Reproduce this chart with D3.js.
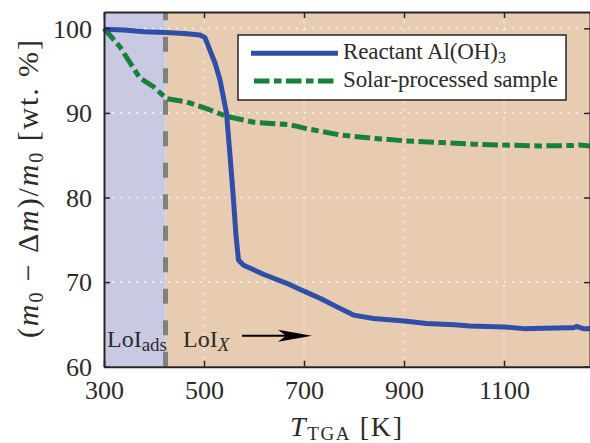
<!DOCTYPE html>
<html>
<head>
<meta charset="utf-8">
<script src="https://cdn.jsdelivr.net/npm/d3@7"></script>
<style>
  html, body { margin: 0; padding: 0; background: #fff; overflow: hidden; }
  svg { display: block; }
  svg text { font-family: "Liberation Serif", "DejaVu Serif", serif; fill: #2b2b2b; }
</style>
</head>
<body>
<svg id="chart" width="590" height="443"></svg>
<script>
// ---- data ----
const reactantT = [300, 340, 380, 423, 460, 492, 502, 512, 522, 532, 545, 552, 559, 564, 569, 579, 620, 672, 701, 732, 765, 799, 839, 901, 945, 1000, 1032, 1101, 1139, 1180, 1230, 1239, 1245, 1259, 1272];
const reactantW = [99.9, 99.8, 99.6, 99.5, 99.4, 99.2, 98.9, 97.4, 95.9, 93.9, 90.0, 85.0, 79.7, 75.5, 72.6, 72.0, 70.9, 69.7, 68.9, 68.1, 67.1, 66.1, 65.7, 65.4, 65.1, 64.95, 64.8, 64.7, 64.5, 64.55, 64.6, 64.6, 64.75, 64.5, 64.5];
const solarT = [300, 332, 372, 399, 425, 465, 505, 545, 600, 672, 701, 772, 839, 901, 972, 1039, 1101, 1172, 1239, 1250, 1272];
const solarW = [100, 97.8, 94.1, 93.1, 91.7, 91.3, 90.5, 89.6, 88.9, 88.6, 88.2, 87.4, 87.0, 86.7, 86.5, 86.3, 86.2, 86.1, 86.15, 86.2, 86.1];
const seriesNames = ["Reactant Al(OH)", "Solar-processed sample"];
const xTicks = [300, 500, 700, 900, 1100];
const yTicks = [60, 70, 80, 90, 100];
const lossBoundary = 423;

// ---- layout ----
const FONT = '"Liberation Serif", "DejaVu Serif", serif';
const svg = d3.select("#chart");
const L = 104, T = 12, R = 590, B = 366.7;
const x = d3.scaleLinear().domain([300, 1272]).range([L, R]);
const y = d3.scaleLinear().domain([60, 101.93]).range([B, T]);

const bgBlue = "#c9c9e4", bgTan = "#e8ccb1";
const blue = "#2f4fa7", green = "#19803b", axisCol = "#262626";

// background regions
svg.append("rect").attr("x", x(300)).attr("y", T).attr("width", x(lossBoundary) - x(300)).attr("height", B - T).attr("fill", bgBlue);
svg.append("rect").attr("x", x(lossBoundary)).attr("y", T).attr("width", R - x(lossBoundary)).attr("height", B - T).attr("fill", bgTan);

// grid
const grid = svg.append("g").attr("stroke", "#f4f4f4").attr("stroke-width", 1.6).attr("stroke-dasharray", "1.8,6.2").attr("opacity", 0.95);
xTicks.filter(d => d > 300).forEach(d => grid.append("line").attr("x1", x(d)).attr("x2", x(d)).attr("y1", B).attr("y2", T));
yTicks.filter(d => d > 60).forEach(d => grid.append("line").attr("x1", L).attr("x2", R).attr("y1", y(d)).attr("y2", y(d)));

// boundary dashed line
svg.append("line").attr("x1", x(lossBoundary)).attr("x2", x(lossBoundary)).attr("y1", B).attr("y2", T)
  .attr("stroke", "#808080").attr("stroke-width", 5).attr("stroke-dasharray", "15,16.5");

// lines
const line = d3.line().x(d => x(d[0])).y(d => y(d[1]));
svg.append("path").datum(solarT.map((t, i) => [t, solarW[i]])).attr("d", line)
  .attr("fill", "none").attr("stroke", green).attr("stroke-width", 5).attr("stroke-dasharray", "15.5,4.5,7.5,4.5");
svg.append("path").datum(reactantT.map((t, i) => [t, reactantW[i]])).attr("d", line)
  .attr("fill", "none").attr("stroke", blue).attr("stroke-width", 5).attr("stroke-linejoin", "round");

// axes
const fmt = d3.format("d");
const axB = svg.append("g").attr("transform", `translate(0,${B})`).call(d3.axisBottom(x).tickValues(xTicks).tickFormat(fmt).tickSizeInner(-6).tickSizeOuter(0).tickPadding(14));
const axT = svg.append("g").attr("transform", `translate(0,${T})`).call(d3.axisTop(x).tickValues(xTicks).tickSizeInner(-6).tickSizeOuter(0).tickFormat(""));
const axL = svg.append("g").attr("transform", `translate(${L},0)`).call(d3.axisLeft(y).tickValues(yTicks).tickFormat(fmt).tickSizeInner(-6).tickSizeOuter(0).tickPadding(12));
const axR = svg.append("g").attr("transform", `translate(${R},0)`).call(d3.axisRight(y).tickValues(yTicks).tickSizeInner(-6).tickSizeOuter(0).tickFormat(""));
[axB, axT, axL, axR].forEach(g => {
  g.attr("font-family", FONT);
  g.select(".domain").attr("stroke", axisCol).attr("stroke-width", 2);
  g.selectAll(".tick line").attr("stroke", axisCol).attr("stroke-width", 1.5);
  g.selectAll(".tick text").style("font-family", FONT).attr("font-size", 26);
});
axB.selectAll(".tick text").attr("dy", "0.71em");
axL.selectAll(".tick text").attr("dy", "0.34em");

// legend
const lg = svg.append("g");
lg.append("rect").attr("x", 238).attr("y", 35).attr("width", 328).attr("height", 65).attr("fill", "#fff").attr("stroke", axisCol).attr("stroke-width", 1.5);
lg.append("line").attr("x1", 251).attr("x2", 338).attr("y1", 53.3).attr("y2", 53.3).attr("stroke", blue).attr("stroke-width", 5);
lg.append("line").attr("x1", 254).attr("x2", 338).attr("y1", 81).attr("y2", 81).attr("stroke", green).attr("stroke-width", 5).attr("stroke-dasharray", "15.5,4.5,7.5,4.5");
const t1 = lg.append("text").attr("x", 343).attr("y", 58.5).attr("font-size", 23).style("font-family", FONT);
t1.append("tspan").attr("textLength", 155).attr("lengthAdjust", "spacing").text(seriesNames[0]);
t1.append("tspan").attr("font-size", 16).attr("dy", 4).text("3");
lg.append("text").attr("x", 343).attr("y", 86.5).attr("font-size", 23).attr("textLength", 215).attr("lengthAdjust", "spacing").style("font-family", FONT).text(seriesNames[1]);

// annotations
const a1 = svg.append("text").attr("x", 107).attr("y", 346.7).attr("font-size", 24).style("font-family", FONT);
a1.append("tspan").text("LoI");
a1.append("tspan").attr("font-size", 19).attr("dy", 4).text("ads");
const a2 = svg.append("text").attr("x", 183).attr("y", 346.7).attr("font-size", 24).style("font-family", FONT);
a2.append("tspan").text("LoI");
a2.append("tspan").attr("font-size", 19).attr("dy", 4).attr("font-style", "italic").text("X");

svg.append("line").attr("x1", 242).attr("x2", 290).attr("y1", 335.7).attr("y2", 335.7).attr("stroke", "#000").attr("stroke-width", 2);
svg.append("path").attr("d", "M312,335.7 L278,329.7 L286,335.7 L278,341.7 Z").attr("fill", "#000");

// axis labels
const xl = svg.append("text").attr("x", 290).attr("y", 436).attr("font-size", 28).attr("textLength", 112).attr("lengthAdjust", "spacing").style("font-family", FONT);
xl.append("tspan").attr("font-style", "italic").text("T");
xl.append("tspan").attr("font-size", 19).attr("dy", 4).text("TGA");
xl.append("tspan").attr("dy", -4).text(" [K]");

const yl = svg.append("text").attr("transform", "translate(38,338) rotate(-90)").attr("font-size", 30)
  .attr("textLength", 298).attr("lengthAdjust", "spacing").style("font-family", FONT);
yl.append("tspan").text("(");
yl.append("tspan").attr("font-style", "italic").text("m");
yl.append("tspan").attr("font-size", 20).attr("dy", 5).text("0");
yl.append("tspan").attr("dy", -5).text(" − Δ");
yl.append("tspan").attr("font-style", "italic").text("m");
yl.append("tspan").text(")/");
yl.append("tspan").attr("font-style", "italic").text("m");
yl.append("tspan").attr("font-size", 20).attr("dy", 5).text("0");
yl.append("tspan").attr("dy", -5).text(" [wt. %]");
</script>
</body>
</html>
